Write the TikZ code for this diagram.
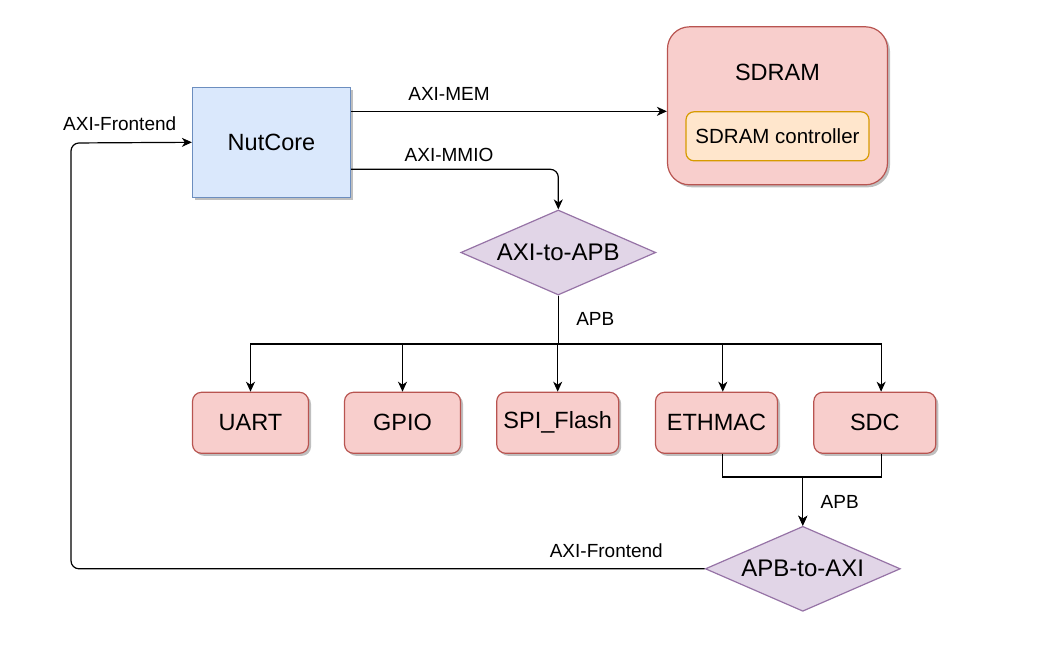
\documentclass[tikz,border=0pt]{standalone}
\usepackage{fontspec}
\setmainfont{Liberation Sans}
\usepackage{xcolor}
\usepackage{tikz}
\usetikzlibrary{positioning,arrows.meta,shapes.geometric,shadows}
\definecolor{CoreBlue}{HTML}{DAE8FC}
\definecolor{CoreLine}{HTML}{6C8EBF}
\definecolor{DevRed}{HTML}{F8CECC}
\definecolor{DevLine}{HTML}{B85450}
\definecolor{CtrlOrange}{HTML}{FFE6CC}
\definecolor{CtrlLine}{HTML}{D79B00}
\definecolor{BridgePurple}{HTML}{E1D5E7}
\definecolor{BridgeLine}{HTML}{9673A6}

\begin{document}
\begin{tikzpicture}[
  x=1pt, y=-1pt,
  every node/.style={font=\fontsize{23.5pt}{28pt}\selectfont, align=center, inner sep=2pt},
  shade/.style={drop shadow={shadow xshift=2.5pt, shadow yshift=-2.5pt, opacity=0.25, fill=black}},
  corebox/.style={draw=CoreLine, fill=CoreBlue, line width=1.2pt, minimum width=158pt, minimum height=110pt, shade},
  devbox/.style={draw=DevLine, fill=DevRed, line width=1.2pt, rounded corners=9pt, minimum width=116pt, minimum height=61pt, shade},
  membox/.style={draw=DevLine, fill=DevRed, line width=1.2pt, rounded corners=22pt, minimum width=220pt, minimum height=158pt, shade},
  ctrlbox/.style={draw=CtrlLine, fill=CtrlOrange, line width=1.2pt, rounded corners=8pt, minimum width=183pt, minimum height=49pt, font=\fontsize{20.5pt}{24pt}\selectfont},
  bridge/.style={diamond, draw=BridgeLine, fill=BridgePurple, line width=1.2pt, aspect=2.3, inner sep=0pt, minimum width=195pt, minimum height=85pt, font=\fontsize{24pt}{28pt}\selectfont},
  buslabel/.style={font=\fontsize{19pt}{22pt}\selectfont},
  arr/.style={draw=black, line width=1.2pt, -{Stealth[length=10pt, width=9pt, inset=3pt]}}
]
\useasboundingbox (0,0) rectangle (1042,670);

\node[corebox] (nut) at (271.5,142.3) {NutCore};

\node[membox] (sdram) at (777.5,105.8) {};
\node (sdramtitle) at (777.5,72) {SDRAM};
\node[ctrlbox] (ctrl) at (777.5,136.3) {SDRAM controller};

\node[bridge] (a2p) at (558.3,252.5) {AXI-to-APB};

\node[devbox] (uart) at (250.5,422.8) {UART};
\node[devbox] (gpio) at (402.5,422.8) {GPIO};
\node[devbox, minimum width=122pt] (spi) at (557.7,422.8) {SPI\_Flash};
\node[devbox, minimum width=122pt] (eth) at (716.5,422.8) {ETHMAC};
\node[devbox, minimum width=122pt] (sdc) at (874.8,422.8) {SDC};

\node[bridge] (p2a) at (802.8,568.8) {APB-to-AXI};

% labels
\node[buslabel] (lmem) at (449,94) {AXI-MEM};
\node[buslabel] (lmmio) at (449,155) {AXI-MMIO};
\node[buslabel] (lapb) at (595.3,319) {APB};
\node[buslabel] (lapb2) at (839.7,501.7) {APB};
\node[buslabel] (lfront) at (119.7,123.3) {AXI-Frontend};
\node[buslabel] (lfront2) at (606.3,550.7) {AXI-Frontend};

% helper points
\coordinate (memout) at ([yshift=31pt]nut.east);
\coordinate (mmioout) at ([yshift=-27pt]nut.east);
\coordinate (bus) at (558,344);
\coordinate (merge) at (802.8,477);
\coordinate (loop) at (71,143);

\draw[arr] (memout) -- (memout -| sdram.west);
\draw[arr, rounded corners=8pt] (mmioout) -| (a2p.north);

\foreach \dev in {uart,gpio,spi}
  \draw[arr] (a2p.south) |- (\dev.north |- bus) -- (\dev.north);
\foreach \dev in {eth,sdc}
  \draw[arr] (a2p.south) |- ([xshift=6.3pt]\dev.north |- bus) -- ([xshift=6.3pt]\dev.north);

\draw[arr] ([xshift=6.3pt]eth.south) |- (merge) -- (p2a.north);
\draw[arr] ([xshift=6.3pt]sdc.south) |- (merge) -- (p2a.north);

\draw[arr, rounded corners=8pt] (p2a.west) -| (loop) -- (nut.west);
\end{tikzpicture}
\end{document}
